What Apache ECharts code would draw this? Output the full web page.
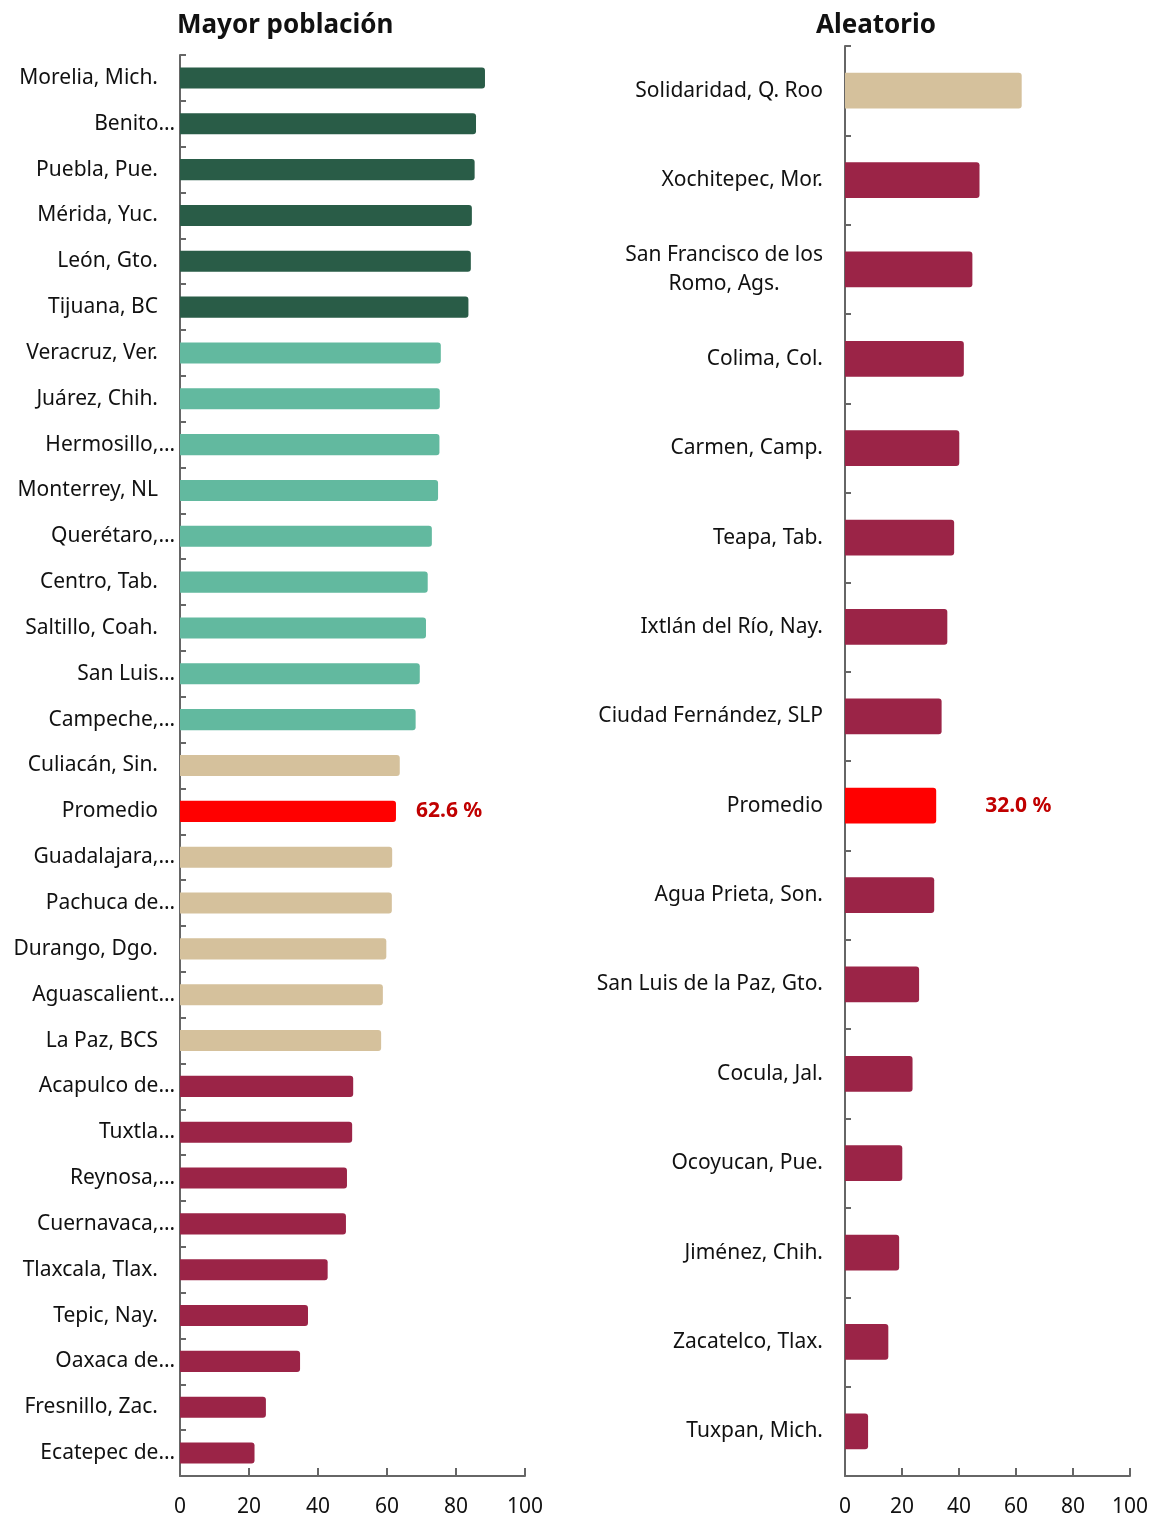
<!DOCTYPE html>
<html>
<head>
<meta charset="utf-8">
<script src="https://cdn.jsdelivr.net/npm/echarts@6/dist/echarts.min.js"></script>
<style>
  html, body { margin: 0; padding: 0; background: #fff; }
  #chart { width: 1151px; height: 1520px; }
</style>
</head>
<body>
<div id="chart"></div>
<script>
// Mayor población (izquierda)
const popCities = [
  'Morelia, Mich.', 'Benito Juárez, Q. Roo', 'Puebla, Pue.', 'Mérida, Yuc.', 'León, Gto.', 'Tijuana, BC',
  'Veracruz, Ver.', 'Juárez, Chih.', 'Hermosillo, Son.', 'Monterrey, NL', 'Querétaro, Qro.', 'Centro, Tab.',
  'Saltillo, Coah.', 'San Luis Potosí, SLP', 'Campeche, Camp.', 'Culiacán, Sin.', 'Promedio',
  'Guadalajara, Jal.', 'Pachuca de Soto, Hgo.', 'Durango, Dgo.', 'Aguascalientes, Ags.', 'La Paz, BCS',
  'Acapulco de Juárez, Gro.', 'Tuxtla Gutiérrez, Chis.', 'Reynosa, Tamps.', 'Cuernavaca, Mor.',
  'Tlaxcala, Tlax.', 'Tepic, Nay.', 'Oaxaca de Juárez, Oax.', 'Fresnillo, Zac.', 'Ecatepec de Morelos, Mex.'
];
const popValues = [
  88.4, 85.8, 85.4, 84.6, 84.3, 83.6,
  75.6, 75.3, 75.2, 74.8, 73.0, 71.8,
  71.3, 69.5, 68.3, 63.7, 62.6,
  61.5, 61.4, 59.8, 58.8, 58.3,
  50.2, 49.9, 48.4, 48.1,
  42.8, 37.1, 34.8, 24.9, 21.6
];
const popGroups = [
  'top', 'top', 'top', 'top', 'top', 'top',
  'high', 'high', 'high', 'high', 'high', 'high',
  'high', 'high', 'high', 'mid', 'avg',
  'mid', 'mid', 'mid', 'mid', 'mid',
  'low', 'low', 'low', 'low',
  'low', 'low', 'low', 'low', 'low'
];

// Aleatorio (derecha)
const randCities = [
  'Solidaridad, Q. Roo', 'Xochitepec, Mor.', 'San Francisco de los Romo, Ags.', 'Colima, Col.',
  'Carmen, Camp.', 'Teapa, Tab.', 'Ixtlán del Río, Nay.', 'Ciudad Fernández, SLP', 'Promedio',
  'Agua Prieta, Son.', 'San Luis de la Paz, Gto.', 'Cocula, Jal.', 'Ocoyucan, Pue.',
  'Jiménez, Chih.', 'Zacatelco, Tlax.', 'Tuxpan, Mich.'
];
const randValues = [
  62.0, 47.2, 44.7, 41.7,
  40.1, 38.3, 35.9, 33.9, 32.0,
  31.3, 26.0, 23.7, 20.1,
  19.0, 15.2, 8.1
];
const randGroups = [
  'mid', 'low', 'low', 'low',
  'low', 'low', 'low', 'low', 'avg',
  'low', 'low', 'low', 'low',
  'low', 'low', 'low'
];

const xTicks = [0, 20, 40, 60, 80, 100];

const groupColors = {
  top: '#295c47',
  high: '#62b99f',
  mid: '#d5c19c',
  low: '#9b2447',
  avg: '#ff0000'
};

const font = 'Noto Sans';
const fs = 21;
const axisLineStyle = { color: '#666', width: 2 };

const measureCtx = document.createElement('canvas').getContext('2d');
measureCtx.font = fs + 'px "' + font + '"';
const textW = s => measureCtx.measureText(s).width;
const ellW = Math.round(textW('…'));

// etiquetas izquierdas: si no caben se cortan por palabra y se añade "…" (que sobresale a la derecha)
function shortLabel(name, maxW) {
  if (textW(name) <= maxW) return '{p|' + name + '}';
  const words = name.split(' ');
  let line = '';
  for (const w of words) {
    const test = line ? line + ' ' + w : w;
    if (textW(test + '…') > maxW) break;
    line = test;
  }
  if (!line) {
    for (const ch of words[0]) {
      if (textW(line + ch + '…') > maxW) break;
      line += ch;
    }
  }
  return '{t|' + line + '…}';
}

// etiquetas derechas: ajuste de línea, líneas centradas entre sí
function wrapLabel(name, maxW) {
  const words = name.split(' ');
  const lines = [];
  let cur = '';
  words.forEach(w => {
    const test = cur ? cur + ' ' + w : w;
    if (cur && textW(test) > maxW) {
      lines.push(cur);
      cur = w;
    } else {
      cur = test;
    }
  });
  if (cur) lines.push(cur);
  return lines.map(l => '{c|' + l + '}').join('\n');
}

function makeData(values, groups, labelDist) {
  return values.map((v, i) => {
    const item = { value: v, itemStyle: { color: groupColors[groups[i]] } };
    if (groups[i] === 'avg') {
      item.label = {
        show: true,
        position: 'right',
        distance: labelDist,
        formatter: p => p.value.toFixed(1) + ' %',
        color: '#c00000',
        fontWeight: 'bold',
        fontSize: fs,
        fontFamily: font
      };
    }
    return item;
  });
}

function xAxisFor(idx) {
  return {
    type: 'value',
    gridIndex: idx,
    min: xTicks[0],
    max: xTicks[xTicks.length - 1],
    interval: xTicks[1] - xTicks[0],
    splitLine: { show: false },
    axisLine: { show: true, lineStyle: axisLineStyle },
    axisTick: { show: true, inside: true, length: 8, lineStyle: axisLineStyle },
    axisLabel: { color: '#111', fontSize: fs, fontFamily: font, margin: 21 }
  };
}

const chart = echarts.init(document.getElementById('chart'), null, { renderer: 'canvas' });

const option = {
  backgroundColor: '#fff',
  animation: false,
  title: [
    {
      text: 'Mayor población',
      left: 172, top: 8,
      textStyle: { fontSize: 26, fontWeight: 'bold', color: '#111', fontFamily: font }
    },
    {
      text: 'Aleatorio',
      left: 811, top: 8,
      textStyle: { fontSize: 26, fontWeight: 'bold', color: '#111', fontFamily: font }
    }
  ],
  grid: [
    { left: 180, right: 626, top: 55, bottom: 44, containLabel: false },
    { left: 845, right: 21, top: 46, bottom: 44, containLabel: false }
  ],
  xAxis: [xAxisFor(0), xAxisFor(1)],
  yAxis: [
    {
      type: 'category',
      gridIndex: 0,
      data: popCities,
      inverse: true,
      axisLine: { show: true, lineStyle: axisLineStyle },
      axisTick: { show: true, inside: true, length: 6, lineStyle: axisLineStyle },
      axisLabel: {
        color: '#111', fontSize: fs, fontFamily: font, margin: 22 - ellW, interval: 0,
        formatter: name => shortLabel(name, 148),
        rich: {
          p: { fontSize: fs, fontFamily: font, color: '#111', padding: [0, ellW, 0, 0] },
          t: { fontSize: fs, fontFamily: font, color: '#111' }
        }
      }
    },
    {
      type: 'category',
      gridIndex: 1,
      data: randCities,
      inverse: true,
      axisLine: { show: true, lineStyle: axisLineStyle },
      axisTick: { show: true, inside: true, length: 6, lineStyle: axisLineStyle },
      axisLabel: {
        color: '#111', fontSize: fs, fontFamily: font, margin: 22, interval: 0,
        formatter: name => wrapLabel(name, 235),
        rich: { c: { align: 'center', fontSize: fs, fontFamily: font, color: '#111', lineHeight: 29 } }
      }
    }
  ],
  series: [
    {
      type: 'bar',
      xAxisIndex: 0,
      yAxisIndex: 0,
      barWidth: '46%',
      itemStyle: { borderRadius: [0, 3, 3, 0] },
      data: makeData(popValues, popGroups, 20)
    },
    {
      type: 'bar',
      xAxisIndex: 1,
      yAxisIndex: 1,
      barWidth: '40%',
      itemStyle: { borderRadius: [0, 3, 3, 0] },
      data: makeData(randValues, randGroups, 49)
    }
  ]
};

chart.setOption(option);
</script>
</body>
</html>
